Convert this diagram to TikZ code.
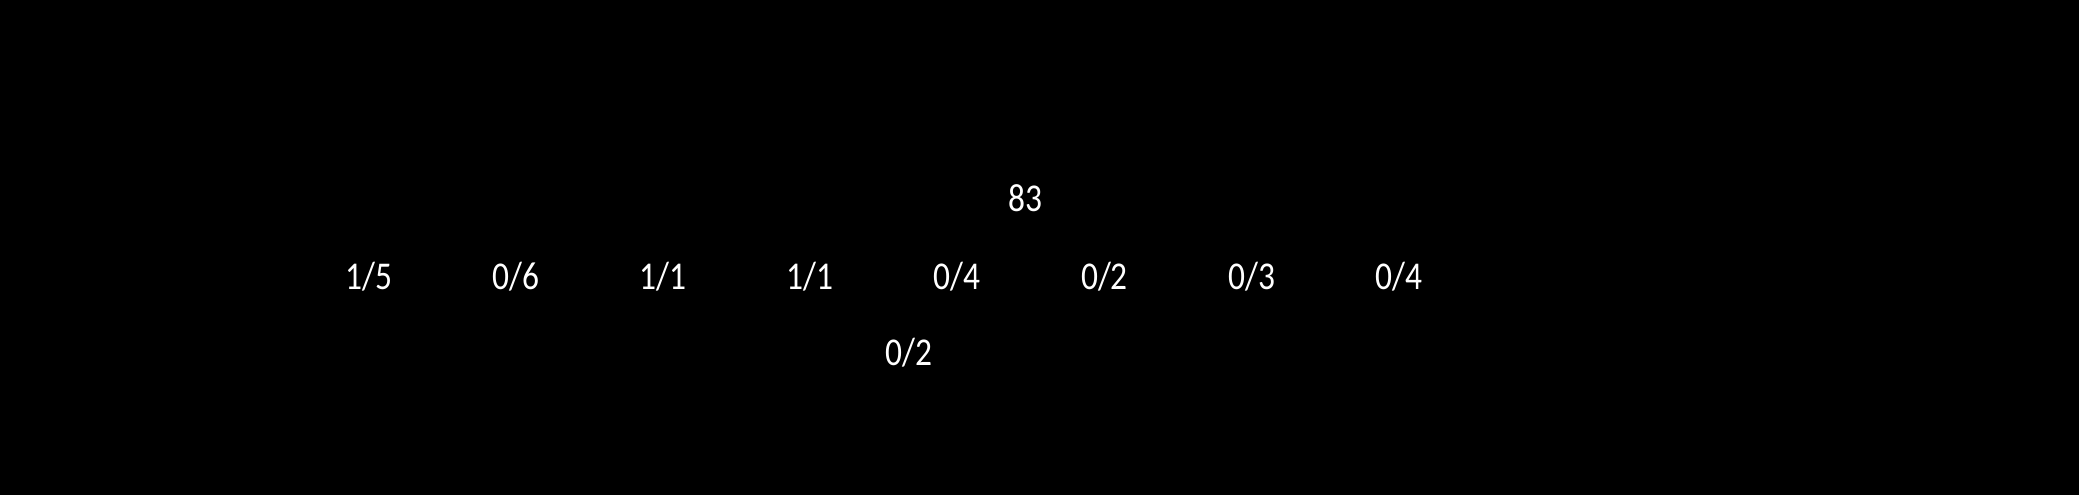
\documentclass[tikz,border=0pt]{standalone}
\usepackage{fontspec}
\setmainfont[FakeStretch=0.85]{Carlito}
\usetikzlibrary{positioning}

\tikzstyle {count} = [text=white, inner sep=0pt, font=\fontsize{11.2}{13}\selectfont]

\begin{document}
\begin{tikzpicture}[on grid, node distance=1.471cm]
            \fill [black] (0,0) rectangle (20.79,4.95);
            \node [count, anchor=base] (root) at (10.25,2.83) {83};
            \node [count, anchor=base] (c1) at (3.69,2.05) {1/5};
            \node [count, base right=of c1] (c2) {0/6};
            \node [count, base right=of c2] (c3) {1/1};
            \node [count, base right=of c3] (c4) {1/1};
            \node [count, base right=of c4] (c5) {0/4};
            \node [count, base right=of c5] (c6) {0/2};
            \node [count, base right=of c6] (c7) {0/3};
            \node [count, base right=of c7] (c8) {0/4};
            \node [count, anchor=base] (c5a) at (9.09,1.29) {0/2};
        \end{tikzpicture}
\end{document}
